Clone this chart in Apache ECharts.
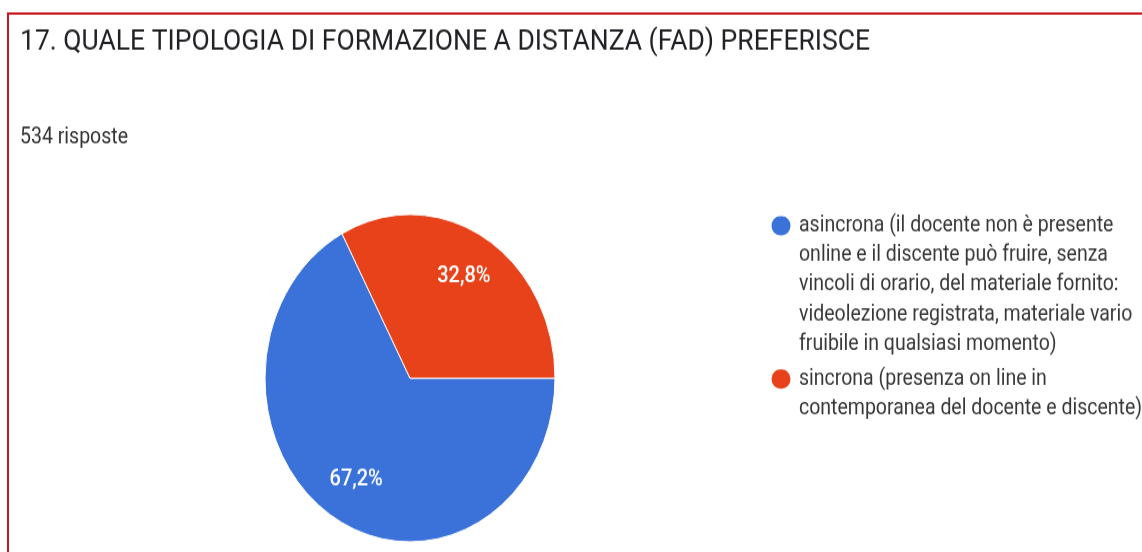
<!DOCTYPE html>
<html>
<head>
<meta charset="utf-8">
<script src="https://cdn.jsdelivr.net/npm/echarts@6/dist/echarts.min.js"></script>
<style>
  html, body { margin: 0; padding: 0; background: #fff; overflow: hidden; }
  #wrap { width: 1142px; height: 552px; overflow: hidden; }
  #chart { width: 1142px; height: 489px; transform: scaleY(1.1288); transform-origin: 0 0; }
</style>
</head>
<body>
<div id="wrap"><div id="chart"></div></div>
<script>
// ---- data ----
const titleText = '17. QUALE TIPOLOGIA DI FORMAZIONE A DISTANZA (FAD) PREFERISCE';
const subtitleText = '534 risposte';
const categories = [
  'asincrona (il docente non è presente online e il discente può fruire, senza vincoli di orario, del materiale fornito: videolezione registrata, materiale vario fruibile in qualsiasi momento)',
  'sincrona (presenza on line in contemporanea del docente e discente)'
];
const legendLines = [
  ['asincrona (il docente non è presente', 'online e il discente può fruire, senza', 'vincoli di orario, del materiale fornito:', 'videolezione registrata, materiale vario', 'fruibile in qualsiasi momento)'],
  ['sincrona (presenza on line in', 'contemporanea del docente e discente)']
];
const responses = [359, 175];
const colors = ['#3a72d9', '#e8421a'];

const chart = echarts.init(document.getElementById('chart'), null, { renderer: 'canvas' });

const pieData = categories.map((c, i) => ({ name: c, value: responses[i], itemStyle: { color: colors[i] } }));
const labelData = categories.map((c, i) => ({ name: c, value: responses[i] }));

const LH = 26.2;
const FS = 19.5;
const richStyles = {
  t: { fontFamily: 'Roboto', fontSize: FS, lineHeight: LH, color: '#383838' },
  sp: { width: 27.5, height: 10, lineHeight: LH },
  g: { width: 8.5, height: 10, lineHeight: LH }
};
colors.forEach((col, i) => {
  richStyles['d' + i] = { width: 19, height: 17, borderRadius: 9.5, backgroundColor: col, lineHeight: LH };
});

const option = {
  animation: false,
  color: colors,
  title: [
    { text: titleText, left: 20, top: 24, padding: 0,
      textStyle: { fontFamily: 'Roboto', fontSize: 26.5, fontWeight: 'normal', color: '#202124' } },
    { text: subtitleText, left: 20, top: 112, padding: 0,
      textStyle: { fontFamily: 'Roboto', fontSize: FS, fontWeight: 'normal', color: '#333333' } }
  ],
  graphic: [
    { type: 'line', shape: { x1: 7, y1: 12, x2: 1142, y2: 12 }, style: { stroke: '#c8161d', lineWidth: 2 }, silent: true },
    { type: 'line', shape: { x1: 8, y1: 11, x2: 8, y2: 489 }, style: { stroke: '#c8161d', lineWidth: 2 }, silent: true }
  ],
  legend: {
    orient: 'vertical',
    left: 765.5,
    top: 187,
    padding: 0,
    itemGap: 4.7,
    itemWidth: 0,
    itemHeight: 0,
    icon: 'rect',
    itemStyle: { opacity: 0 },
    selectedMode: false,
    data: categories,
    formatter: function (name) {
      const i = categories.indexOf(name);
      const lines = legendLines[i];
      return lines.map((ln, k) => (k === 0 ? '{d' + i + '|}{g|}' : '{sp|}') + '{t|' + ln + '}').join('\n');
    },
    textStyle: { fontFamily: 'Roboto', fontSize: FS, lineHeight: LH, color: '#383838', rich: richStyles }
  },
  series: [
    {
      type: 'pie',
      center: [410, 335],
      radius: [0, 145],
      startAngle: 0,
      clockwise: true,
      data: pieData,
      label: { show: false },
      labelLine: { show: false },
      itemStyle: { borderColor: '#ffffff', borderWidth: 1 },
      emphasis: { disabled: true },
      silent: true
    },
    {
      type: 'pie',
      center: [410, 335],
      radius: [0, 203],
      startAngle: 0,
      clockwise: true,
      data: labelData,
      itemStyle: { color: 'rgba(0,0,0,0)', borderWidth: 0 },
      label: {
        show: true,
        position: 'inside',
        fontFamily: 'Roboto',
        fontSize: 20,
        fontWeight: 500,
        color: '#ffffff',
        formatter: function (p) { return p.percent.toFixed(1).replace('.', ',') + '%'; }
      },
      labelLine: { show: false },
      emphasis: { disabled: true },
      silent: true
    }
  ]
};
chart.setOption(option);
</script>
</body>
</html>
